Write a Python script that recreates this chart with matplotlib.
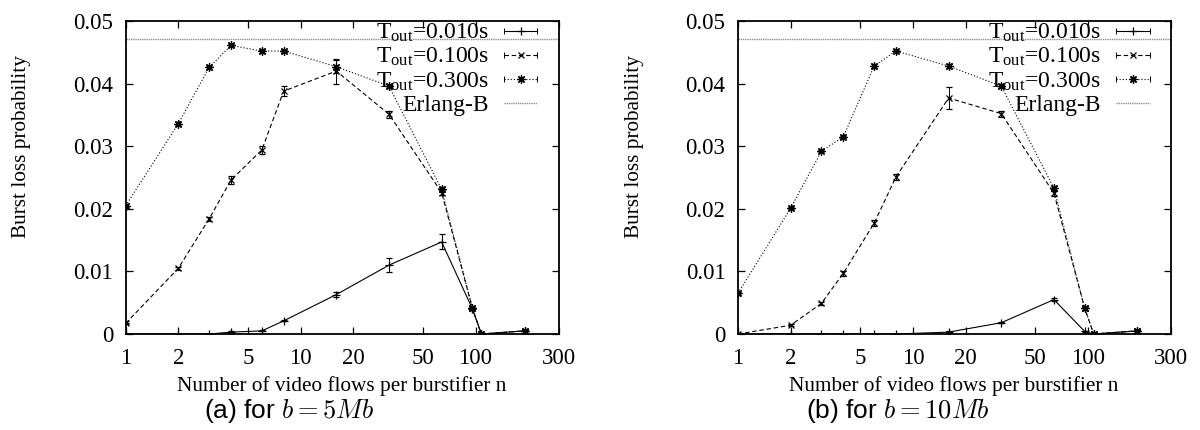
import matplotlib
matplotlib.use('Agg')
import matplotlib.pyplot as plt
from matplotlib.lines import Line2D
from matplotlib.legend_handler import HandlerLine2D

plt.rcParams['font.family'] = ['Liberation Serif', 'DejaVu Serif']
plt.rcParams['mathtext.fontset'] = 'cm'

# number of video flows per burstifier
N = [1, 2, 3, 4, 6, 8, 16, 32, 64, 96, 108, 192]
X_TICKS = [1, 2, 5, 10, 20, 50, 100, 300]
Y_TICKS = [0, 0.01, 0.02, 0.03, 0.04, 0.05]
ERLANG_B = 0.0471

LABELS = [r'$\mathregular{T_{out}}$=0.010s',
          r'$\mathregular{T_{out}}$=0.100s',
          r'$\mathregular{T_{out}}$=0.300s',
          'Erlang-B']

# (a) b = 5Mb
A_T010 = [0, 0, 0, 0.0003, 0.0005, 0.0021, 0.0063, 0.0110, 0.0147, 0.0040, 0, 0.0005]
A_T010_ERR = [0, 0, 0, 0.0001, 0.0001, 0.0001, 0.0004, 0.0011, 0.0012, 0.0002, 0, 0.0001]
A_T100 = [0.0017, 0.0105, 0.0184, 0.0246, 0.0294, 0.0388, 0.0420, 0.0351, 0.0226, 0.0041, 0, 0.0005]
A_T100_ERR = [0.0001, 0.0002, 0.0003, 0.0006, 0.0007, 0.0008, 0.0020, 0.0006, 0.0004, 0.0002, 0, 0.0001]
A_T300 = [0.0205, 0.0336, 0.0426, 0.0461, 0.0452, 0.0452, 0.0427, 0.0396, 0.0231, 0.0041, 0, 0.0005]
A_T300_ERR = [0.0002, 0.0002, 0.0002, 0.0002, 0.0003, 0.0002, 0.0010, 0.0003, 0.0004, 0.0002, 0, 0.0001]

# (b) b = 10Mb
B_T010 = [0, 0, 0, 0, 0, 0, 0.0003, 0.0018, 0.0055, 0.0004, 0, 0.0005]
B_T010_ERR = [0, 0, 0, 0, 0, 0, 0.0001, 0.0001, 0.0003, 0.0001, 0, 0.0001]
B_T100 = [0, 0.0014, 0.0049, 0.0097, 0.0177, 0.0251, 0.0377, 0.0352, 0.0225, 0.0041, 0, 0.0005]
B_T100_ERR = [0.0001, 0.0002, 0.0002, 0.0004, 0.0005, 0.0005, 0.0017, 0.0005, 0.0004, 0.0002, 0, 0.0001]
B_T300 = [0.0065, 0.0201, 0.0292, 0.0315, 0.0428, 0.0452, 0.0428, 0.0396, 0.0233, 0.0041, 0, 0.0005]
B_T300_ERR = [0.0002, 0.0002, 0.0002, 0.0002, 0.0003, 0.0002, 0.0003, 0.0003, 0.0004, 0.0002, 0, 0.0001]

STYLES = [
    dict(ls='-', marker='+', ms=6),
    dict(ls=(0, (4, 2.5)), marker='x', ms=4.5),
    dict(ls=(0, (1, 1.8)), marker=(8, 2, 0), ms=6),
]


class GnuplotKey(HandlerLine2D):
    # legend sample with end caps, like gnuplot's errorbar key
    def create_artists(self, legend, orig, xdescent, ydescent, width, height, fontsize, trans):
        arts = super().create_artists(legend, orig, xdescent, ydescent, width, height,
                                      fontsize, trans)
        xs = arts[0].get_xdata()
        ys = arts[0].get_ydata()
        caps = Line2D([xs[0], xs[-1]], [ys[0], ys[-1]], ls='none', marker='|',
                      ms=5, mew=0.7, color='black', transform=trans)
        return arts + [caps]


def draw_panel(ax, series, errors):
    handles = []
    for y, e, st in zip(series, errors, STYLES):
        eb = ax.errorbar(N, y, yerr=e, color='black', lw=0.8, ls=st['ls'],
                         marker=st['marker'], ms=st['ms'], mew=0.9,
                         elinewidth=0.7, capsize=2.5, capthick=0.7)
        handles.append(eb[0])
    h, = ax.plot([1, 300], [ERLANG_B, ERLANG_B], color='#909090', lw=1.0, ls=(0, (1, 0.6)))
    handles.append(h)

    ax.set_xscale('log')
    ax.set_xlim(1, 300)
    ax.set_ylim(0, 0.05)
    ax.set_xticks(X_TICKS)
    ax.set_xticklabels([str(t) for t in X_TICKS])
    ax.minorticks_off()
    ax.set_yticks(Y_TICKS)
    ax.set_yticklabels(['0'] + ['%.2f' % t for t in Y_TICKS[1:]])
    ax.tick_params(direction='in', top=True, right=True, length=5, width=0.9,
                   labelsize=16.5)
    ax.tick_params(axis='x', pad=10)
    ax.tick_params(axis='y', pad=9)
    for s in ax.spines.values():
        s.set_linewidth(1.3)

    hmap = {hd: GnuplotKey() for hd in handles[:3]}
    leg = ax.legend(handles, LABELS, loc='upper right', frameon=False,
                    markerfirst=False, fontsize=17, handlelength=1.4,
                    handletextpad=0.65, labelspacing=0.08,
                    borderaxespad=0.1, bbox_to_anchor=(0.977, 1.035),
                    handler_map=hmap)
    # right-align legend rows like gnuplot
    col = leg._legend_box._children[1]._children[0]
    col.align = 'right'


fig = plt.figure(figsize=(12, 4.3), dpi=100)
ax_a = fig.add_axes([125.7 / 1200, 96 / 430, 433.3 / 1200, 313 / 430])
ax_b = fig.add_axes([738 / 1200, 96 / 430, 433.3 / 1200, 313 / 430])

draw_panel(ax_a, [A_T010, A_T100, A_T300], [A_T010_ERR, A_T100_ERR, A_T300_ERR])
draw_panel(ax_b, [B_T010, B_T100, B_T300], [B_T010_ERR, B_T100_ERR, B_T300_ERR])

for x0 in (22, 634):
    fig.text(x0 / 1200, 1 - 147 / 430, 'Burst loss probability', rotation=90,
             ha='center', va='center', fontsize=15.3)
for xc in (342, 954):
    fig.text(xc / 1200, 1 - 386 / 430, 'Number of video flows per burstifier n',
             ha='center', va='center', fontsize=15.3)

fig.text(289 / 1200, 1 - 411 / 430, r'(a) for $b = 5Mb$', ha='center', va='center',
         fontsize=19, family='Liberation Sans')
fig.text(898 / 1200, 1 - 411 / 430, r'(b) for $b = 10Mb$', ha='center', va='center',
         fontsize=19, family='Liberation Sans')

fig.savefig('out.png', dpi=100)
